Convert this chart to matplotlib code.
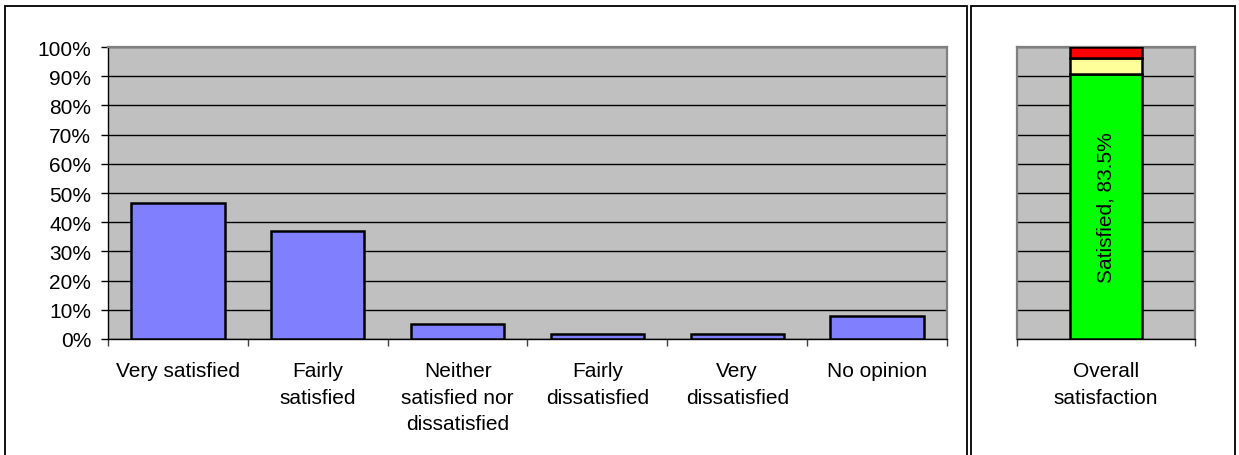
import numpy as np
import matplotlib
matplotlib.use("Agg")
import matplotlib.pyplot as plt
from matplotlib.patches import Rectangle
from matplotlib.ticker import FuncFormatter

plt.rcParams['font.family'] = ['Liberation Sans', 'DejaVu Sans']

# data
categories = ["Very satisfied", "Fairly\nsatisfied", "Neither\nsatisfied nor\ndissatisfied",
              "Fairly\ndissatisfied", "Very\ndissatisfied", "No opinion"]
values = [46.5, 37.0, 5.1, 1.7, 1.7, 8.0]

overall_label = "Overall\nsatisfaction"
seg_names = ["Satisfied", "Neither", "Dissatisfied"]
seg_colors = ["#00FF00", "#FFFF99", "#FF0000"]

# overall bar: shares among those with an opinion
satisfied = values[0] + values[1]
neither = values[2]
dissatisfied = values[3] + values[4]
base = satisfied + neither + dissatisfied
segments = [satisfied / base * 100, neither / base * 100, dissatisfied / base * 100]

W, H = 1239, 456
fig = plt.figure(figsize=(W / 100, H / 100), dpi=100)

def fx(px):
    return px / W

def fy(py):
    return 1 - py / H

# panel borders
for x0, x1 in [(5, 967), (971, 1235)]:
    fig.patches.append(Rectangle((fx(x0), fy(470)), fx(x1) - fx(x0), fy(7) - fy(470),
                                 transform=fig.transFigure, fill=False,
                                 edgecolor="black", linewidth=1.3))

pct = FuncFormatter(lambda v, p: "%d%%" % v)
fs = 15


def style_axes(ax, show_y):
    ax.set_facecolor("#C0C0C0")
    ax.set_ylim(0, 100)
    ax.set_yticks(np.arange(0, 101, 10))
    ax.yaxis.set_major_formatter(pct)
    ax.grid(axis="y", color="black", linewidth=1.0, zorder=0)
    ax.set_axisbelow(True)
    for s in ["top", "right"]:
        ax.spines[s].set_color("#808080")
        ax.spines[s].set_linewidth(1.6)
    ax.spines["bottom"].set_color("black")
    ax.spines["bottom"].set_linewidth(1.0)
    if show_y:
        ax.spines["left"].set_color("black")
        ax.spines["left"].set_linewidth(1.0)
        ax.tick_params(axis="y", length=5, width=1, pad=7, labelsize=fs)
    else:
        ax.spines["left"].set_color("#808080")
        ax.spines["left"].set_linewidth(1.6)
        ax.tick_params(axis="y", length=0, labelleft=False)
    ax.tick_params(axis="x", which="major", length=0, pad=16, labelsize=fs)
    ax.tick_params(axis="x", which="minor", length=5, width=1, color="#404040")


# left chart
ax1 = fig.add_axes([fx(108), fy(340), fx(947) - fx(108), fy(48) - fy(340)])
x = np.arange(len(categories))
ax1.bar(x, values, width=0.667, color="#8080FF", edgecolor="black", linewidth=1.8, zorder=3)
ax1.set_xlim(-0.5, len(categories) - 0.5)
ax1.set_xticks(x)
ax1.set_xticklabels(categories, linespacing=1.5, va="top")
ax1.set_xticks(np.arange(-0.5, len(categories)), minor=True)
style_axes(ax1, True)

# right chart
ax2 = fig.add_axes([fx(1017), fy(340), fx(1195) - fx(1017), fy(48) - fy(340)])
bottom = 0
for v, c in zip(segments, seg_colors):
    ax2.bar([0], [v], bottom=bottom, width=0.4, color=c, edgecolor="black",
            linewidth=1.8, zorder=3)
    bottom += v
ax2.text(0, segments[0] / 2, "Satisfied, %.1f%%" % satisfied, rotation=90,
         ha="center", va="center", fontsize=fs, zorder=4)
ax2.set_xlim(-0.5, 0.5)
ax2.set_xticks([0])
ax2.set_xticklabels([overall_label], linespacing=1.5, va="top")
ax2.set_xticks([-0.5, 0.5], minor=True)
style_axes(ax2, False)

fig.savefig("out.png", dpi=100)
